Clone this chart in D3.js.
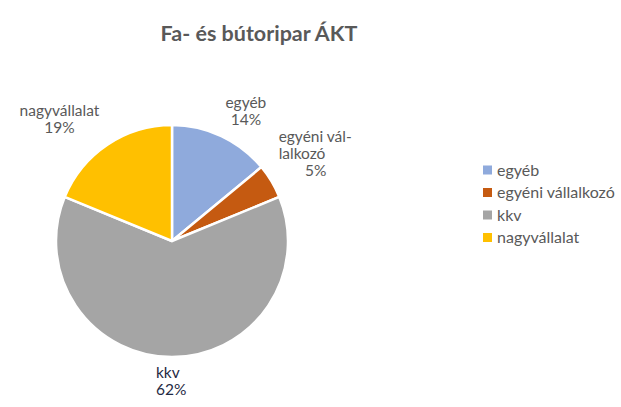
<!DOCTYPE html>
<html><head><meta charset="utf-8">
<script src="https://cdn.jsdelivr.net/npm/d3@7"></script>
<style>body{margin:0;background:#fff}svg{display:block}text{font-family:Lato,"Open Sans",sans-serif}</style>
</head><body><svg id="c" width="621" height="407"></svg>
<script>
const categories = ["egyéb", "egyéni vállalkozó", "kkv", "nagyvállalat"];
const values = [14.0, 4.8, 62.4, 18.8];
const percentLabels = ["14%", "5%", "62%", "19%"];
const colors = ["#8FAADC", "#C55A11", "#A5A5A5", "#FFC000"];
const title = "Fa- és bútoripar ÁKT";

const svg = d3.select("#c");
const cx = 172, cy = 241, R = 116;

svg.append("text").attr("x", 259).attr("y", 41).attr("text-anchor", "middle")
  .attr("font-size", 21.5).attr("font-weight", "bold").attr("fill", "#595959").text(title);

const pie = d3.pie().sort(null).value(d => d)(values);
const arc = d3.arc().innerRadius(0).outerRadius(R);
const labelArc = d3.arc().innerRadius(150).outerRadius(150);
const g = svg.append("g").attr("transform", `translate(${cx},${cy})`);
g.selectAll("path").data(pie).join("path")
  .attr("d", arc).attr("fill", (d, i) => colors[i])
  .attr("stroke", "#fff").attr("stroke-width", 2.5).attr("stroke-linejoin", "round");

// label layout (nudges from outer-arc centroid, line splits)
const layout = [
  {dx: 10, dy: 6, lines: [[categories[0], "middle", 0], [percentLabels[0], "middle", 0]], color: "#595959"},
  {dx: 15, dy: -10, lines: [["egyéni vál-", "start", -37], ["lalkozó", "start", -37], [percentLabels[1], "middle", 0]], color: "#595959"},
  {dx: 0, dy: -10, lines: [[categories[2], "start", -16], [percentLabels[2], "start", -16]], color: "#1f2a44"},
  {dx: -29, dy: 3, lines: [[categories[3], "middle", 0], [percentLabels[3], "middle", 0]], color: "#595959"}
];
const lh = 17;
pie.forEach((d, i) => {
  const [px, py] = labelArc.centroid(d);
  const L = layout[i];
  const n = L.lines.length;
  L.lines.forEach((ln, j) => {
    g.append("text").attr("font-size", 15.5).attr("fill", L.color)
      .attr("x", px + L.dx + ln[2])
      .attr("y", py + L.dy + (j - (n - 1) / 2) * lh)
      .attr("dy", "0.35em").attr("text-anchor", ln[1]).text(ln[0]);
  });
});

const legend = svg.append("g").attr("transform", "translate(483,170)");
const items = legend.selectAll("g").data(categories).join("g")
  .attr("transform", (d, i) => `translate(0,${i * 22.5})`);
items.append("rect").attr("x", 0).attr("y", -4.5).attr("width", 9).attr("height", 9)
  .attr("fill", (d, i) => colors[i]);
items.append("text").attr("x", 14).attr("y", 0).attr("dy", "0.35em")
  .attr("font-size", 16).attr("fill", "#595959").text(d => d);
</script></body></html>
